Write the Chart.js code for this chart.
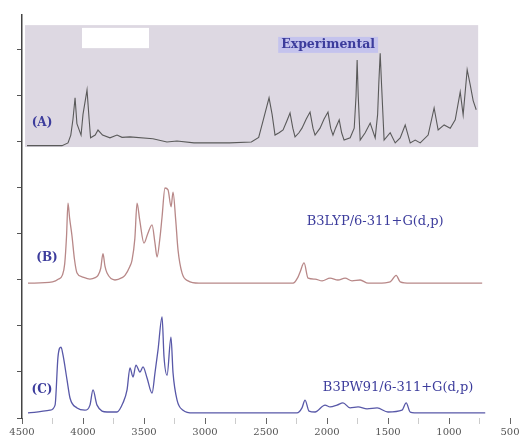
<!DOCTYPE html>
<html>
<head>
<meta charset="utf-8">
<title>IR spectra</title>
<script src="https://cdn.jsdelivr.net/npm/chart.js@4.4.1/dist/chart.umd.min.js"></script>
<style>
    body { margin: 0; background: #ffffff; }
    #wrap { width: 523px; height: 441px; }
</style>
</head>
<body>
<div id="wrap"><canvas id="irChart"></canvas></div>
<script>
// wavenumber (cm-1) / stacked intensity
const expWave = [4459, 4172, 4123, 4100, 4082, 4065, 4050, 4016, 4000, 3967, 3950, 3938, 3900, 3877, 3840, 3779, 3721, 3680, 3615, 3427, 3312, 3230, 3090, 2800, 2620, 2560, 2520, 2475, 2450, 2426, 2393, 2360, 2330, 2303, 2280, 2262, 2230, 2205, 2170, 2139, 2115, 2098, 2057, 2024, 1992, 1970, 1951, 1930, 1900, 1880, 1860, 1810, 1777, 1762, 1753, 1744, 1728, 1687, 1646, 1605, 1585, 1575, 1564, 1552, 1532, 1482, 1441, 1400, 1359, 1318, 1277, 1236, 1171, 1122, 1089, 1040, 990, 949, 908, 884, 851, 826, 802, 777];
const expInt  = [5.92, 5.92, 5.98, 6.15, 6.5, 6.96, 6.4, 6.15, 6.6, 7.13, 6.5, 6.09, 6.15, 6.26, 6.15, 6.09, 6.15, 6.1, 6.11, 6.07, 6.0, 6.02, 5.98, 5.98, 6.0, 6.1, 6.5, 6.96, 6.6, 6.15, 6.2, 6.26, 6.45, 6.63, 6.3, 6.11, 6.2, 6.3, 6.5, 6.65, 6.3, 6.15, 6.3, 6.5, 6.65, 6.3, 6.15, 6.3, 6.48, 6.2, 6.04, 6.09, 6.3, 7.0, 7.78, 7.0, 6.04, 6.2, 6.41, 6.09, 6.6, 7.3, 7.93, 7.2, 6.04, 6.2, 5.98, 6.09, 6.37, 5.98, 6.04, 5.98, 6.15, 6.74, 6.26, 6.37, 6.3, 6.48, 7.09, 6.59, 7.57, 7.24, 6.9, 6.7];

const lypWave = [4451, 4250, 4200, 4170, 4150, 4135, 4123, 4110, 4090, 4070, 4049, 4008, 3943, 3900, 3877, 3855, 3836, 3820, 3803, 3738, 3680, 3656, 3615, 3598, 3575, 3557, 3535, 3500, 3470, 3434, 3410, 3393, 3370, 3352, 3328, 3303, 3278, 3262, 3240, 3221, 3188, 3139, 3050, 2278, 2240, 2221, 2188, 2155, 2098, 2040, 1975, 1910, 1852, 1795, 1728, 1663, 1581, 1482, 1433, 1400, 1318, 728];
const lypInt  = [2.93, 2.96, 3.02, 3.1, 3.35, 3.95, 4.67, 4.35, 3.95, 3.45, 3.15, 3.07, 3.02, 3.05, 3.1, 3.25, 3.57, 3.3, 3.15, 3.0, 3.05, 3.1, 3.3, 3.43, 3.9, 4.67, 4.3, 3.8, 4.0, 4.2, 3.8, 3.5, 3.9, 4.37, 5.0, 4.96, 4.59, 4.91, 4.3, 3.65, 3.15, 2.98, 2.93, 2.93, 3.05, 3.17, 3.37, 3.04, 3.02, 2.98, 3.04, 3.0, 3.04, 2.98, 3.0, 2.93, 2.93, 2.96, 3.1, 2.96, 2.93, 2.93];

const pwWave = [4451, 4270, 4229, 4205, 4180, 4164, 4131, 4106, 4049, 3984, 3943, 3918, 3885, 3803, 3721, 3672, 3639, 3615, 3590, 3566, 3533, 3508, 3475, 3434, 3410, 3385, 3352, 3336, 3311, 3279, 3262, 3229, 3180, 3098, 2246, 2205, 2180, 2147, 2098, 2016, 1975, 1918, 1869, 1811, 1745, 1672, 1589, 1500, 1385, 1351, 1318, 1236, 703];
const pwInt  = [0.11, 0.17, 0.28, 1.33, 1.54, 1.37, 0.83, 0.43, 0.22, 0.17, 0.28, 0.61, 0.28, 0.13, 0.13, 0.33, 0.61, 1.09, 0.89, 1.15, 1.0, 1.11, 0.87, 0.54, 0.98, 1.48, 2.2, 1.33, 0.93, 1.76, 0.98, 0.39, 0.17, 0.11, 0.11, 0.22, 0.39, 0.15, 0.13, 0.28, 0.24, 0.28, 0.33, 0.22, 0.24, 0.2, 0.22, 0.13, 0.17, 0.33, 0.13, 0.11, 0.11];

const panelLabels = ["(A)", "(B)", "(C)"];
const methodLabels = ["Experimental", "B3LYP/6-311+G(d,p)", "B3PW91/6-311+G(d,p)"];

function toPoints(xs, ys) {
    return xs.map((v, i) => ({ x: v, y: ys[i] }));
}

const TEXT_BLUE = "#3c3c9c";

const decor = {
    id: "decor",
    beforeDatasetsDraw(chart) {
        const { ctx, scales: { x, y } } = chart;
        ctx.save();
        // grey frame behind the experimental trace
        const l = x.getPixelForValue(4475), r = x.getPixelForValue(761);
        const t = y.getPixelForValue(8.54), b = y.getPixelForValue(5.89);
        ctx.fillStyle = "#ddd8e2";
        ctx.fillRect(l, t, r - l, b - t);
        const wl = x.getPixelForValue(4008), wr = x.getPixelForValue(3459);
        const wt = y.getPixelForValue(8.48), wb = y.getPixelForValue(8.04);
        ctx.fillStyle = "#ffffff";
        ctx.fillRect(wl, wt, wr - wl, wb - wt);
        ctx.restore();
    },
    afterDatasetsDraw(chart) {
        const { ctx, scales: { x, y } } = chart;
        ctx.save();
        ctx.textBaseline = "middle";
        ctx.textAlign = "center";

        // panel letters
        const letterPos = [[4336, 6.41], [4295, 3.48], [4336, 0.61]];
        ctx.font = "bold 12px 'DejaVu Serif'";
        ctx.fillStyle = TEXT_BLUE;
        panelLabels.forEach((txt, i) => {
            ctx.fillText(txt, x.getPixelForValue(letterPos[i][0]), y.getPixelForValue(letterPos[i][1]));
        });

        // "Experimental" with its pale highlight
        const ex = x.getPixelForValue(1991), ey = y.getPixelForValue(8.11);
        ctx.font = "bold 12.5px 'DejaVu Serif'";
        const w = ctx.measureText(methodLabels[0]).width;
        ctx.fillStyle = "rgba(190,190,240,0.8)";
        ctx.fillRect(ex - w / 2 - 3, ey - 8, w + 6, 16);
        ctx.fillStyle = TEXT_BLUE;
        ctx.fillText(methodLabels[0], ex, ey);

        ctx.font = "13px 'DejaVu Serif'";
        ctx.fillText(methodLabels[1], x.getPixelForValue(1605), y.getPixelForValue(4.26));
        ctx.fillText(methodLabels[2], x.getPixelForValue(1417), y.getPixelForValue(0.67));
        ctx.restore();
    }
};

new Chart(document.getElementById("irChart"), {
    type: "line",
    data: {
        datasets: [
            {
                label: methodLabels[0],
                data: toPoints(expWave, expInt),
                borderColor: "#5a5a5a",
                borderWidth: 1.1,
                pointRadius: 0,
                tension: 0
            },
            {
                label: methodLabels[1],
                data: toPoints(lypWave, lypInt),
                borderColor: "#b88888",
                borderWidth: 1.3,
                pointRadius: 0,
                cubicInterpolationMode: "monotone"
            },
            {
                label: methodLabels[2],
                data: toPoints(pwWave, pwInt),
                borderColor: "#5858a8",
                borderWidth: 1.3,
                pointRadius: 0,
                cubicInterpolationMode: "monotone"
            }
        ]
    },
    options: {
        responsive: true,
        maintainAspectRatio: false,
        animation: false,
        layout: { padding: { top: 15, right: 13, left: 0, bottom: 0 } },
        plugins: {
            legend: { display: false },
            tooltip: { enabled: false }
        },
        scales: {
            x: {
                type: "linear",
                reverse: true,
                min: 500,
                max: 4500,
                border: { display: false },
                grid: {
                    drawOnChartArea: false,
                    tickLength: 6,
                    tickColor: c => (c.tick && c.tick.value % 500 === 0) ? "#666666" : "#cccccc"
                },
                ticks: {
                    stepSize: 250,
                    autoSkip: false,
                    maxRotation: 0,
                    padding: 2,
                    color: "#555555",
                    font: { family: "'DejaVu Serif'", size: 10 },
                    callback: v => v % 500 === 0 ? String(v) : ""
                },
                afterFit: s => { s.height = 23; }
            },
            y: {
                min: 0,
                max: 8.76,
                border: { display: true, color: "#444444", width: 1.5 },
                grid: {
                    drawOnChartArea: false,
                    tickLength: 5,
                    tickColor: "#555555"
                },
                ticks: { display: false, stepSize: 1, includeBounds: false },
                afterFit: s => { s.width = 22; }
            }
        }
    },
    plugins: [decor]
});
</script>
</body>
</html>
